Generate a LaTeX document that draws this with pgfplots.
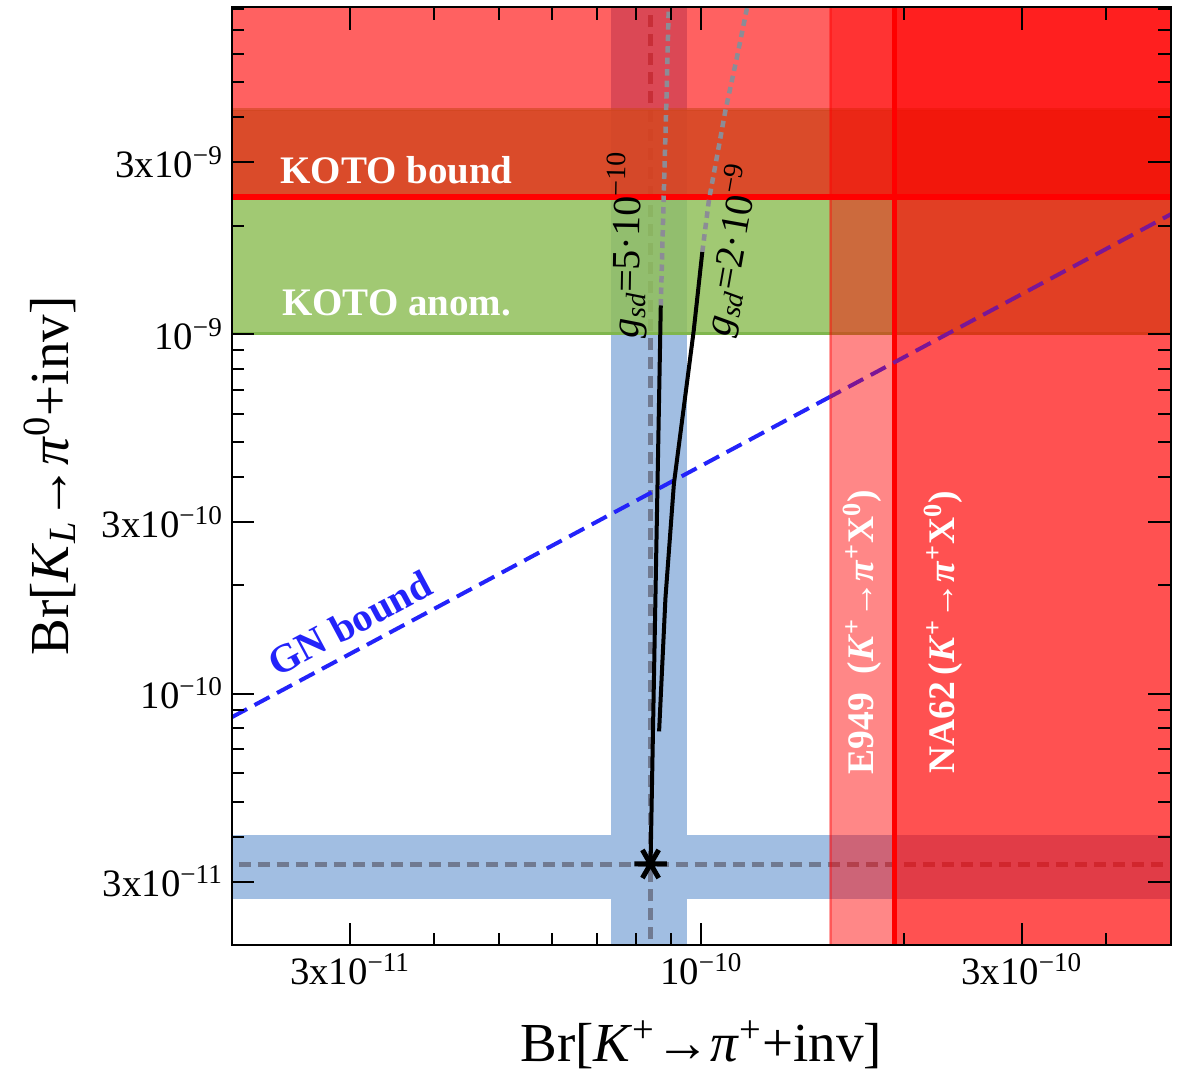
\documentclass[border=0pt]{standalone}
\usepackage{fontspec}
\setmainfont{Liberation Serif}
\usepackage{pgfplots}
\pgfplotsset{compat=1.18}
\definecolor{bandblue}{RGB}{161,190,226}
\definecolor{smgray}{RGB}{112,122,145}
\definecolor{kgreen}{RGB}{144,191,90}
\definecolor{kgreenedge}{RGB}{128,182,78}
\definecolor{gnblue}{RGB}{35,35,250}
\definecolor{gnpurple}{RGB}{122,22,150}
\definecolor{dotgray}{RGB}{140,140,150}
\begin{document}
\begin{tikzpicture}
\begin{axis}[
  xmode=log, ymode=log,
  scale only axis, width=375.6pt, height=375.2pt,
  xmin=2e-11, xmax=5e-10, ymin=2e-11, ymax=8.1e-9,
  axis on top,
  xtick={3e-11,1e-10,3e-10},
  xticklabels={3x10\textsuperscript{−11},10\textsuperscript{−10},3x10\textsuperscript{−10}},
  minor xtick={4e-11,5e-11,6e-11,7e-11,8e-11,9e-11,2e-10,4e-10},
  ytick={3e-11,1e-10,3e-10,1e-9,3e-9},
  yticklabels={3x10\textsuperscript{−11},10\textsuperscript{−10},3x10\textsuperscript{−10},10\textsuperscript{−9},3x10\textsuperscript{−9}},
  minor ytick={4e-11,5e-11,6e-11,7e-11,8e-11,9e-11,2e-10,4e-10,5e-10,6e-10,7e-10,8e-10,9e-10,2e-9,4e-9,5e-9,6e-9,7e-9,8e-9},
  major tick length=9pt, minor tick length=5pt,
  tick style={black, line width=0.8pt},
  axis line style={line width=1pt},
  ticklabel style={font=\fontsize{15.5}{15.5}\selectfont},
  label style={font=\fontsize{22}{22}\selectfont},
  xlabel={Br[\textit{K}\textsuperscript{+}→\textit{π}\textsuperscript{+}+inv]},
  ylabel={Br[\textit{K}\textsubscript{\textit{L}}→\textit{π}\textsuperscript{0}+inv]},
  xlabel style={at={(axis description cs:0.5,-0.1066)}, anchor=center},
  ylabel style={at={(axis description cs:-0.194,0.5)}, anchor=center},
]
% SM bands
\addplot[draw=none, fill=bandblue] coordinates {(7.33e-11,1e-11) (9.53e-11,1e-11) (9.53e-11,1e-8) (7.33e-11,1e-8)} -- cycle;
\addplot[draw=none, fill=bandblue] coordinates {(1e-11,2.68e-11) (1e-9,2.68e-11) (1e-9,4.05e-11) (1e-11,4.05e-11)} -- cycle;
\addplot[smgray, line width=2pt, dash pattern=on 4.8pt off 2.8pt] coordinates {(8.4e-11,1e-11) (8.4e-11,1e-8)};
\addplot[smgray, line width=2pt, dash pattern=on 4.8pt off 2.8pt] coordinates {(1e-11,3.34e-11) (1e-9,3.34e-11)};
% GN bound (part outside the red band)
\addplot[gnblue, line width=1.6pt, dash pattern=on 6.8pt off 3.4pt] coordinates {(1e-11,4.3e-11) (1.555e-10,6.687e-10)};
% KOTO anomaly
\addplot[draw=none, fill=kgreen, fill opacity=0.85] coordinates {(1e-11,1e-9) (1e-9,1e-9) (1e-9,4.2e-9) (1e-11,4.2e-9)} -- cycle;
\addplot[kgreenedge, line width=1.2pt] coordinates {(1e-11,1e-9) (1e-9,1e-9)};
\addplot[kgreenedge, line width=1.0pt, opacity=0.6] coordinates {(1e-11,4.2e-9) (1e-9,4.2e-9)};
% KOTO bound
\addplot[draw=none, fill=red, fill opacity=0.62] coordinates {(1e-11,2.4e-9) (1e-9,2.4e-9) (1e-9,1e-8) (1e-11,1e-8)} -- cycle;
% E949 and NA62
\addplot[draw=none, fill=red, fill opacity=0.47] coordinates {(1.555e-10,1e-11) (1e-9,1e-11) (1e-9,1e-8) (1.555e-10,1e-8)} -- cycle;
\addplot[draw=none, fill=red, fill opacity=0.4] coordinates {(1.94e-10,1e-11) (1e-9,1e-11) (1e-9,1e-8) (1.94e-10,1e-8)} -- cycle;
\addplot[red, line width=2.4pt] coordinates {(1e-11,2.4e-9) (1e-9,2.4e-9)};
\addplot[red, line width=2pt] coordinates {(1.94e-10,1e-11) (1.94e-10,1e-8)};
\addplot[red, opacity=0.35, line width=1.2pt] coordinates {(1.555e-10,1e-11) (1.555e-10,1e-8)};
% GN bound inside the red band
\addplot[gnpurple, line width=1.6pt, dash pattern=on 6.8pt off 3.4pt, dash phase=2pt] coordinates {(1.555e-10,6.687e-10) (1e-9,4.3e-9)};
% g_sd curves
\addplot[dotgray, line width=1.8pt, dash pattern=on 2.6pt off 2pt] coordinates {(8.70e-11,1.199e-9) (8.79e-11,2.458e-9) (8.87e-11,4.466e-9) (8.94e-11,8.1e-9) (8.96e-11,1e-8)};
\addplot[dotgray, line width=1.8pt, dash pattern=on 2.6pt off 2pt] coordinates {(1.003e-10,1.688e-9) (1.026e-10,2.35e-9) (1.086e-10,4.185e-9) (1.130e-10,5.894e-9) (1.169e-10,8.04e-9) (1.18e-10,9e-9)};
\addplot[black, line width=1.6pt] coordinates {(8.4e-11,3.36e-11) (8.70e-11,1.199e-9)};
\addplot[black, line width=1.6pt] coordinates {(8.65e-11,7.85e-11) (8.84e-11,1.842e-10) (9.10e-11,3.83e-10) (9.74e-11,1.021e-9) (1.003e-10,1.688e-9)};
\addplot[black, line width=1.6pt, mark=asterisk, mark size=6.5pt, mark options={rotate=90, line width=2pt}, only marks] coordinates {(8.4e-11,3.36e-11)};
% labels
\node[font=\bfseries\fontsize{15.6}{15.6}\selectfont, text=white, anchor=base west, inner sep=0pt] at (axis description cs:0.0511,0.8124) {KOTO bound};
\node[font=\bfseries\fontsize{15.6}{15.6}\selectfont, text=white, anchor=base west, inner sep=0pt] at (axis description cs:0.0529,0.6716) {KOTO anom.};
\node[font=\bfseries\fontsize{16}{16}\selectfont, text=gnblue, rotate=28.2, inner sep=0pt] at (axis description cs:0.1257,0.343) {GN bound};
\node[font=\fontsize{16}{16}\selectfont, rotate=89, inner sep=0pt] at (axis description cs:0.4207,0.7463) {\textit{g}\textsubscript{\textit{sd}}=5·10\textsuperscript{−10}};
\node[font=\fontsize{16}{16}\selectfont, rotate=80, inner sep=0pt] at (axis description cs:0.5322,0.741) {\textit{g}\textsubscript{\textit{sd}}=2·10\textsuperscript{−9}};
\node[font=\bfseries\fontsize{15}{15}\selectfont, text=white, rotate=90, inner sep=0pt] at (axis description cs:0.6709,0.3337) {E949\ \ (\textit{K}\textsuperscript{+}→\textit{π}\textsuperscript{+}X\textsuperscript{0})};
\node[font=\bfseries\fontsize{15}{15}\selectfont, text=white, rotate=90, inner sep=0pt] at (axis description cs:0.7572,0.3337) {NA62\,(\textit{K}\textsuperscript{+}→\textit{π}\textsuperscript{+}X\textsuperscript{0})};
\coordinate (ll) at (axis description cs:0,0);
\coordinate (ur) at (axis description cs:1,1);
\end{axis}
\pgfresetboundingbox
\path[use as bounding box] ([shift={(-92.8pt,-51.6pt)}]ll) rectangle ([shift={(3.2pt,2.8pt)}]ur);
\end{tikzpicture}
\end{document}
